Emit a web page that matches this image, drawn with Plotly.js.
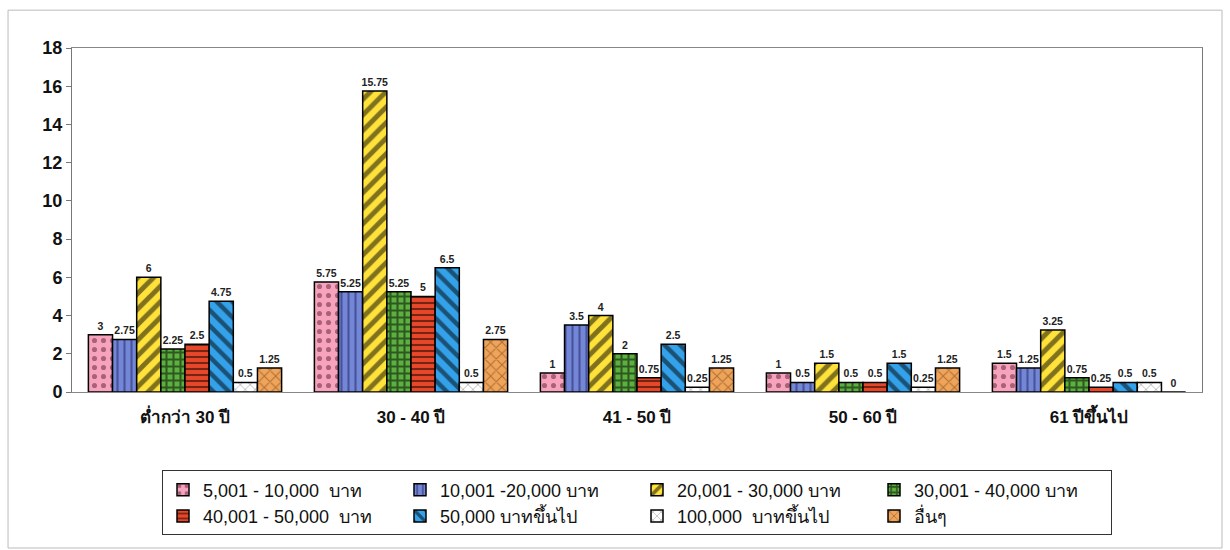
<!DOCTYPE html>
<html>
<head>
<meta charset="utf-8">
<script src="https://cdn.plot.ly/plotly-3.0.1.min.js"></script>
<style>html,body{margin:0;padding:0;background:#fff}#chart{width:1230px;height:550px}</style>
</head>
<body>
<div id="chart"></div>
<script>
const categories = ["ต่ำกว่า 30 ปี", "30 - 40 ปี", "41 - 50 ปี", "50 - 60 ปี", "61 ปีขึ้นไป"];
const seriesNames = ["5,001 - 10,000  บาท", "10,001 -20,000 บาท", "20,001 - 30,000 บาท", "30,001 - 40,000 บาท",
  "40,001 - 50,000  บาท", "50,000 บาทขึ้นไป", "100,000  บาทขึ้นไป", "อื่นๆ"];
const s1 = [3, 5.75, 1, 1, 1.5];
const s2 = [2.75, 5.25, 3.5, 0.5, 1.25];
const s3 = [6, 15.75, 4, 1.5, 3.25];
const s4 = [2.25, 5.25, 2, 0.5, 0.75];
const s5 = [2.5, 5, 0.75, 0.5, 0.25];
const s6 = [4.75, 6.5, 2.5, 1.5, 0.5];
const s7 = [0.5, 0.5, 0.25, 0.25, 0.5];
const s8 = [1.25, 2.75, 1.25, 1.25, 0];
const yTicks = [0, 2, 4, 6, 8, 10, 12, 14, 16, 18];

const allSeries = [s1, s2, s3, s4, s5, s6, s7, s8];
const styles = [
  {bg: "#f7a3bd", fg: "#5a2030", shape: ".", size: 9, sol: 0.25},
  {bg: "#7486d6", fg: "#1a2060", shape: "|", size: 7, sol: 0.3},
  {bg: "#ffe23a", fg: "#000000", shape: "/", size: 11, sol: 0.45},
  {bg: "#5cb040", fg: "#000000", shape: "+", size: 7, sol: 0.5},
  {bg: "#e8482a", fg: "#000000", shape: "-", size: 6, sol: 0.35},
  {bg: "#34a2ea", fg: "#000000", shape: "\\", size: 11, sol: 0.4},
  {bg: "#ffffff", fg: "#555555", shape: "x", size: 7, sol: 0.2},
  {bg: "#f0a45a", fg: "#6a3a10", shape: "x", size: 8, sol: 0.25}
];
const fontFam = "Arial, 'Liberation Sans', 'Noto Sans', 'DejaVu Sans', sans-serif";

const data = allSeries.map((vals, i) => ({
  type: "bar",
  name: seriesNames[i],
  x: categories,
  y: vals,
  text: vals.map(v => String(v)),
  textposition: "outside",
  constraintext: "none",
  cliponaxis: false,
  textfont: {family: fontFam, size: 10.5, color: "#222", weight: "bold"},
  marker: {
    color: styles[i].bg,
    line: {color: "#000", width: 1.5},
    pattern: {shape: styles[i].shape, fgcolor: styles[i].fg, bgcolor: styles[i].bg,
      size: styles[i].size, solidity: styles[i].sol, fillmode: "overlay"}
  }
}));

const layout = {
  width: 1230, height: 550,
  paper_bgcolor: "#fff", plot_bgcolor: "#fff",
  margin: {l: 72, r: 28, t: 48, b: 158},
  barmode: "group",
  bargap: 0.145,
  bargroupgap: 0,
  showlegend: true,
  font: {family: fontFam, color: "#111"},
  xaxis: {
    showline: true, linecolor: "#888", linewidth: 1, mirror: true,
    ticks: "", ticklabelstandoff: 10,
    tickfont: {size: 17, weight: "bold", family: fontFam, color: "#111"},
    showgrid: false
  },
  yaxis: {
    range: [0, 18], tickvals: yTicks, ticktext: yTicks.map(String),
    showline: true, linecolor: "#777", linewidth: 1, mirror: true,
    ticks: "outside", ticklen: 5, tickcolor: "#777",
    showgrid: false, zeroline: false,
    tickfont: {size: 18, weight: "bold", family: fontFam, color: "#111"}
  },
  legend: {
    orientation: "h", x: 0.5, xanchor: "center", y: -0.228, yanchor: "top",
    bordercolor: "#333", borderwidth: 1, bgcolor: "#fff",
    font: {size: 18, family: fontFam, color: "#111"},
    entrywidth: 192, itemwidth: 30, tracegroupgap: 0,
    traceorder: "normal"
  },
  shapes: [{
    type: "rect", xref: "paper", yref: "paper",
    x0: -0.0566, x1: 1.0177, y0: -0.4535, y1: 1.11,
    line: {color: "#bbb", width: 1}, fillcolor: "rgba(0,0,0,0)", layer: "below"
  }]
};

Plotly.newPlot("chart", data, layout, {displayModeBar: false, staticPlot: true});
</script>
</body>
</html>
